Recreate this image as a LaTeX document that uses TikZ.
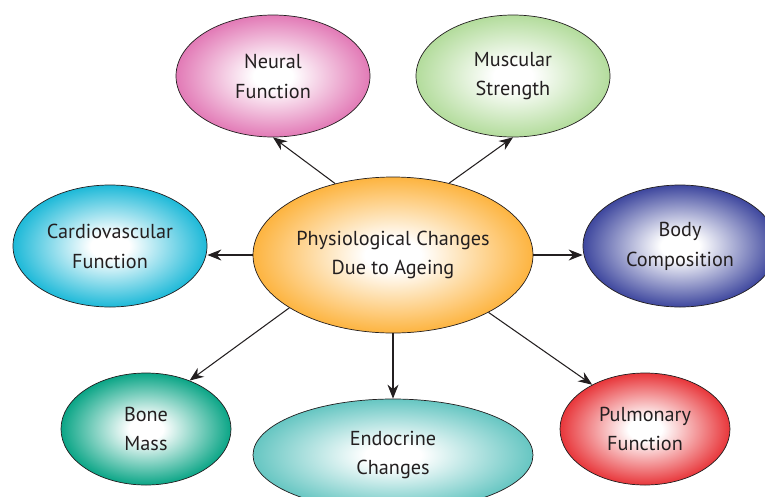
\documentclass[tikz,border=0pt]{standalone}
\usepackage{fontspec}
\setmainfont{PT Sans}
\usetikzlibrary{shapes.geometric,arrows.meta}
\definecolor{neuralc}{HTML}{E27AB6}
\definecolor{musclec}{HTML}{B3DC9C}
\definecolor{cardioc}{HTML}{1DB9D8}
\definecolor{centrec}{HTML}{FDB440}
\definecolor{bodyc}{HTML}{3E479E}
\definecolor{bonec}{HTML}{0AA586}
\definecolor{endoc}{HTML}{66C6C2}
\definecolor{pulmc}{HTML}{E8363A}
\definecolor{inkc}{HTML}{231F20}
\colorlet{bubout}{white}
\pgfdeclareradialshading[bubout]{bubshade}{\pgfpoint{0bp}{0bp}}{%
  color(0bp)=(white); color(5bp)=(white); color(25bp)=(bubout); color(50bp)=(bubout)}

\begin{document}
\begin{tikzpicture}[
  bubble/.style={ellipse, draw=inkc, line width=0.4pt, inner sep=0pt,
    /utils/exec={\colorlet{bubout}{#1}}, shading=bubshade,
    align=center, text=inkc,
    font=\fontsize{11.5}{17}\selectfont,
    minimum width=3.88cm, minimum height=2.44cm},
  link/.style={-{Stealth[length=2.8mm,width=2.2mm]}, draw=inkc, line width=0.6pt}]
\useasboundingbox (0,0) rectangle (15.3,-9.92);
\node[bubble=centrec, minimum width=5.6cm, minimum height=3.12cm] (n1) at (7.86,-5.10) {Physiological Changes\\Due to Ageing};
\node[bubble=neuralc] (n2) at (5.46,-1.52) {Neural\\Function};
\node[bubble=musclec] (n3) at (10.26,-1.52) {Muscular\\Strength};
\node[bubble=cardioc] (n4) at (2.20,-4.92) {Cardiovascular\\Function};
\node[bubble=bodyc] (n5) at (13.60,-4.92) {Body\\Composition};
\node[bubble=bonec, minimum width=3.4cm, minimum height=2.24cm] (n6) at (2.92,-8.58) {Bone\\Mass};
\node[bubble=endoc, minimum width=5.6cm, minimum height=2.24cm] (n7) at (7.86,-9.10) {Endocrine\\Changes};
\node[bubble=pulmc, minimum width=3.4cm, minimum height=2.24cm] (n8) at (12.90,-8.58) {Pulmonary\\Function};
\draw[link] (n1.129) -- (n2.south);
\draw[link] (n1.52) -- (n3.south);
\draw[link] (n1.west) -- (n4.east |- n1.west);
\draw[link] (n1.east) -- (n5.west |- n1.east);
\draw[link] (n1.-153) -- (n6.48);
\draw[link] (n1.south) -- (n7.north);
\draw[link] (n1.-31) -- (n8.140);
\end{tikzpicture}
\end{document}
